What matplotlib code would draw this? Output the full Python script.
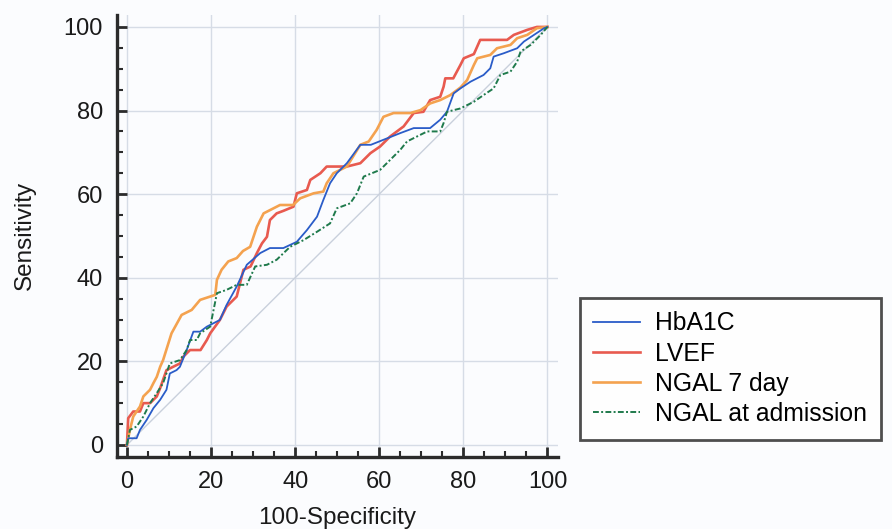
import numpy as np
import matplotlib
matplotlib.use("Agg")
import matplotlib.pyplot as plt
from matplotlib.ticker import MultipleLocator

plt.rcParams['font.family'] = ['Liberation Sans', 'DejaVu Sans']

# 曲线数据
hba1c_x = [0, 0.3, 2.3, 3.1, 4.7, 6.3, 7.9, 9.4, 10.2, 11.8, 12.6, 14.2, 15.8, 17.4, 19, 22.1, 23.7, 26.1,
           28.5, 31.7, 34, 37.2, 40.4, 42.8, 45.2, 46.7, 48.3, 49.9, 52.3, 55.5, 58, 61, 65, 68.2, 72.1,
           74.5, 76.1, 77.7, 79.3, 81.7, 84.8, 86.4, 87.2, 89.6, 92.8, 94.4, 96.8, 99.2, 100]
hba1c_y = [0, 1.6, 1.6, 3.6, 6, 8.8, 10.8, 13.2, 17.1, 17.9, 18.7, 22.7, 27.1, 27.1, 28.3, 29.9, 33.5, 37.9,
           43.1, 45.9, 47.1, 47.1, 48.6, 51.4, 54.6, 58.6, 62.6, 65, 67.4, 71.8, 71.8, 73, 74.6, 75.8, 75.8,
           77.8, 79.7, 84.1, 85.3, 86.9, 88.5, 90.1, 92.9, 93.7, 94.9, 96.5, 98.1, 99.7, 100]

lvef_x = [0, 0.3, 1.5, 3.1, 3.9, 5.5, 7.1, 7.9, 9.4, 11, 12.6, 13.4, 15, 17.5, 19, 19.8, 22.1, 23.7, 26.1,
          27.7, 29.4, 30.9, 32.1, 33.3, 34, 35.6, 37.2, 39.6, 40.4, 42.8, 43.6, 46, 47.5, 52.3, 55.5, 57.9,
          60.2, 62.6, 65.8, 68.2, 70.5, 72.1, 74.5, 75.3, 75.7, 77.6, 79.3, 80.1, 82.5, 84, 90.4, 92, 95.2,
          97.5, 100]
lvef_y = [0, 6.4, 8, 8, 10, 10, 11.6, 13.6, 17.9, 18.7, 19.5, 21.1, 22.7, 22.7, 25.1, 26.7, 29.9, 33.1, 35.5,
          41.9, 42.7, 45.9, 48.2, 49.8, 53.8, 55.4, 56, 57, 60.2, 61, 63.4, 65, 66.6, 66.6, 67.4, 69.8,
          71.4, 73.8, 76.2, 79.4, 79.7, 82.5, 83.3, 85.7, 87.7, 87.7, 90.9, 92.5, 93.5, 96.9, 96.9, 98.1, 99.3,
          100, 100]

ngal7_x = [0, 0.7, 1.5, 3.1, 3.9, 5.5, 6.3, 7.1, 7.9, 8.6, 10.6, 13, 15.4, 17.4, 21, 21.4, 22.5, 24.1, 26.1,
           27.6, 29.3, 30.9, 32.5, 36.4, 39.5, 41.2, 44.4, 46.7, 47.5, 49.1, 52.3, 55.5, 57.5, 59.4, 61,
           63.4, 67.4, 69.8, 72.1, 74.5, 76.9, 79.3, 80.9, 82.5, 83.3, 86.4, 88, 91.2, 92.8, 95.2, 97.5, 100]
ngal7_y = [0, 3.6, 6.8, 9.2, 11.6, 13.2, 14.8, 16.3, 18.7, 20.3, 26.7, 31.1, 32.3, 34.7, 35.9, 39.5, 41.9,
           43.9, 44.7, 46.4, 47.4, 52.2, 55.4, 57.4, 57.4, 59, 60.2, 60.6, 62.6, 65, 66.6, 71.8, 72.6, 75.4,
           78.5, 79.4, 79.4, 80.1, 81.7, 82.5, 83.7, 85.5, 87.3, 90.9, 92.5, 93.3, 94.9, 95.7, 97.3, 98.1,
           99.7, 100]

ngal0_x = [0, 0.7, 2.3, 3.9, 5.5, 7.1, 8.6, 10.2, 12.6, 14.2, 15, 16.6, 17.4, 19.8, 21.4, 23.7, 26.1, 28.5,
           30.5, 33.3, 35.6, 38.8, 42, 45.2, 48.3, 49.9, 53.1, 54.7, 56.3, 60.2, 62.6, 65, 66.6, 69, 71.4,
           74.5, 75.3, 76.1, 79.3, 80.9, 82.5, 84.8, 87.2, 88.8, 91.2, 92.8, 93.6, 96, 98.4, 100]
ngal0_y = [0, 3.6, 4.4, 6.8, 10, 12.4, 14.8, 19.5, 20.3, 22.7, 25.1, 25.1, 26.7, 28.3, 36.3, 37.1, 38.3,
           38.3, 42.7, 43.1, 44.3, 47.4, 49, 51, 53, 56.6, 57.8, 60.2, 64.2, 65.8, 68.2, 70.6, 72.6, 73.8,
           75, 75, 77, 79.7, 80.5, 81.3, 82.1, 83.7, 85.3, 88.5, 89.3, 91.7, 94.1, 95.7, 98.1, 100]

labels = ['HbA1C', 'LVEF', 'NGAL 7 day', 'NGAL at admission']
ticks = [0, 20, 40, 60, 80, 100]

fig = plt.figure(figsize=(8.92, 5.29), dpi=100, facecolor='#fbfcfe')
ax = fig.add_axes([0.131, 0.136, 0.495, 0.836])
ax.set_facecolor('#fbfcfe')

# 参考线
ax.plot([0, 100], [0, 100], color='#c9d0dc', lw=1, zorder=1)

ax.plot(hba1c_x, hba1c_y, color='#2a5cc8', lw=1.3, label=labels[0], zorder=5)
ax.plot(lvef_x, lvef_y, color='#e85a4f', lw=1.9, label=labels[1], zorder=3)
ax.plot(ngal7_x, ngal7_y, color='#f4a24f', lw=1.9, label=labels[2], zorder=4)
ax.plot(ngal0_x, ngal0_y, color='#1f7a4c', lw=1.4, ls=(0, (3, 1.2, 1, 1.2)), label=labels[3], zorder=6)

ax.set_xlim(-2.4, 102.6)
ax.set_ylim(-2.9, 102.9)
ax.set_xticks(ticks)
ax.set_yticks(ticks)
ax.xaxis.set_minor_locator(MultipleLocator(5))
ax.yaxis.set_minor_locator(MultipleLocator(5))
ax.grid(True, which='major', color='#d6dce6', lw=1)
ax.set_axisbelow(True)

for s in ['top', 'right']:
    ax.spines[s].set_visible(False)
for s in ['left', 'bottom']:
    ax.spines[s].set_linewidth(2.4)
    ax.spines[s].set_color('#2b2b2b')

ax.tick_params(which='major', direction='in', length=7.5, width=2, color='#2b2b2b',
               labelsize=17, pad=10, labelcolor='#1a1a1a')
ax.tick_params(which='minor', direction='in', length=4, width=1.5, color='#2b2b2b')

ax.set_xlabel('100-Specificity', fontsize=17.5, labelpad=10, color='#1a1a1a')
ax.set_ylabel('Sensitivity', fontsize=17.5, labelpad=20, color='#1a1a1a')

leg = ax.legend(loc='upper left', bbox_to_anchor=(0.650, 0.437), bbox_transform=fig.transFigure,
                fontsize=17.8, frameon=True, fancybox=False, borderaxespad=0, labelspacing=0.25,
                handlelength=1.9, handletextpad=0.6, borderpad=0.55)
leg.get_frame().set_edgecolor('#222222')
leg.get_frame().set_linewidth(2)
leg.get_frame().set_facecolor('white')

fig.savefig('out.png', dpi=100, facecolor=fig.get_facecolor())
